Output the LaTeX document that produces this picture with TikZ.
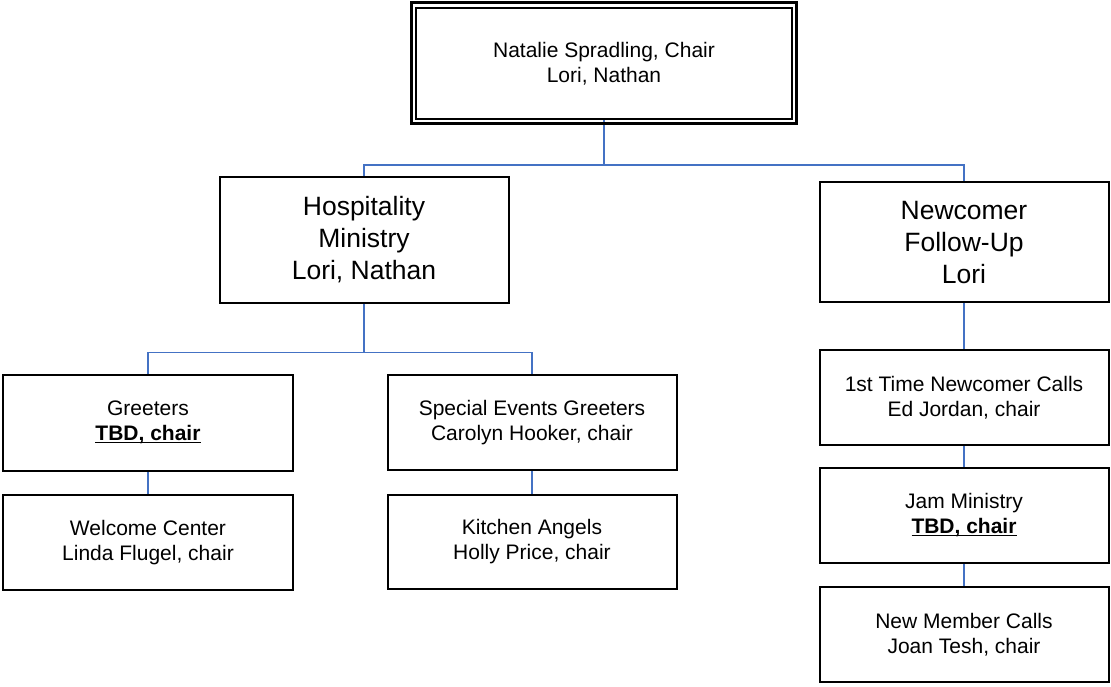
\documentclass[tikz,border=0pt]{standalone}
\usepackage{fontspec}
\setmainfont{Liberation Sans}
\usetikzlibrary{positioning}
\definecolor{linkblue}{RGB}{68,114,196}
\newcommand{\ulb}[1]{\underline{\smash{\textbf{#1}}}\vphantom{Ty}}
\tikzset{
  box/.style={draw=black, line width=2pt, rectangle, align=center, inner sep=0pt,
    minimum width=289pt, font=\fontsize{21}{25}\selectfont},
  bigbox/.style={box, font=\fontsize{26.5}{32}\selectfont},
  link/.style={draw=linkblue, line width=1.5pt},
}
\begin{document}
\begin{tikzpicture}[x=1pt, y=-1pt]
\useasboundingbox (0,0) rectangle (1111,687);
% nodes
\node[box, minimum width=376pt, minimum height=111.5pt] (top) at (604,63.3) {Natalie Spradling, Chair\\Lori, Nathan};
\node[bigbox, minimum height=125.5pt] (hosp) at (364,240) {Hospitality\\Ministry\\Lori, Nathan};
\node[bigbox, minimum height=119.5pt] (newc) at (964,242.2) {Newcomer\\Follow-Up\\Lori};
\node[box, minimum width=290pt, minimum height=95.5pt] (greet) at (148,423) {Greeters\\\ulb{TBD, chair}};
\node[box, minimum width=290pt, minimum height=95pt] (welc) at (148,542.5) {Welcome Center\\Linda Flugel, chair};
\node[box, minimum height=95.5pt] (spec) at (532,422.3) {Special Events Greeters\\Carolyn Hooker, chair};
\node[box, minimum height=94.5pt] (kitch) at (532,541.8) {Kitchen Angels\\Holly Price, chair};
\node[box, minimum height=95pt] (first) at (964,397.5) {1st Time Newcomer Calls\\Ed Jordan, chair};
\node[box, minimum height=95pt] (jam) at (964,515.5) {Jam Ministry\\\ulb{TBD, chair}};
\node[box, minimum height=95pt] (newm) at (964,634.5) {New Member Calls\\Joan Tesh, chair};
% junctions
\coordinate (j1) at (604,165);
\coordinate (j2) at (364,352.7);
% connectors
\draw[link] (top.south) -- (j1);
\draw[link] (j1) -| (hosp.north);
\draw[link] (j1) -| (newc.north);
\draw[link] (hosp.south) -- (j2);
\draw[link] (j2) -| (greet.north);
\draw[link] (j2) -| (spec.north);
\draw[link] (greet.south) -- (welc.north);
\draw[link] (spec.south) -- (kitch.north);
\draw[link] (newc.south) -- (first.north);
\draw[link] (first.south) -- (jam.north);
\draw[link] (jam.south) -- (newm.north);
% outer border of top box (double frame)
\draw[black, line width=3pt] ([shift={(-3.8pt,3.8pt)}]top.north west) rectangle ([shift={(3.8pt,-3.8pt)}]top.south east);
\end{tikzpicture}
\end{document}
